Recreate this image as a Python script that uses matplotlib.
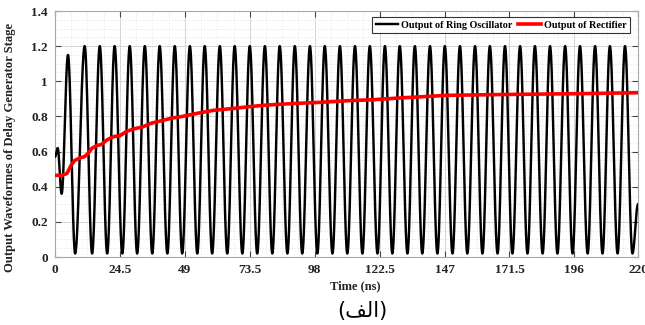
import numpy as np
import matplotlib
matplotlib.use("Agg")
import matplotlib.pyplot as plt
from matplotlib.ticker import AutoMinorLocator

# ---- data ----
# ring oscillator: start-up extrema then steady peaks / troughs (ns, V)
osc_start_t = [0.0, 1.0, 2.5, 4.9, 7.6]
osc_start_v = [0.57, 0.62, 0.36, 1.15, 0.02]
osc_peak_t = [11.2, 16.9, 22.5, 28.2, 33.9, 39.5, 45.2, 50.9, 56.5, 62.2,
              67.8, 73.5, 79.2, 84.8, 90.5, 96.2, 101.8, 107.5, 113.2, 118.8,
              124.5, 130.1, 135.8, 141.5, 147.1, 152.8, 158.5, 164.1, 169.8,
              175.5, 181.1, 186.8, 192.5, 198.1, 203.8, 209.4, 215.1]
osc_trough_t = [14.0, 19.7, 25.4, 31.0, 36.7, 42.4, 48.0, 53.7, 59.3, 65.0,
                70.7, 76.3, 82.0, 87.7, 93.3, 99.0, 104.7, 110.3, 116.0, 121.7,
                127.3, 133.0, 138.6, 144.3, 150.0, 155.6, 161.3, 167.0, 172.6,
                178.3, 184.0, 189.6, 195.3, 201.0, 206.6, 212.3, 217.9]
osc_peak_v = 1.2
osc_trough_v = 0.02
osc_end_t = [220.0]
osc_end_v = [0.3]

# rectifier output (ns, V)
rect_t = [0, 2.5, 4.5, 6, 7.5, 9.5, 11, 12.5, 14, 16, 17.5, 19.5, 22, 24.5,
          27, 30, 33, 36, 40, 44, 48, 54.5, 60, 67, 73, 80, 92, 100, 111,
          120, 130, 148, 170, 200, 220]
rect_v = [0.465, 0.465, 0.475, 0.52, 0.55, 0.565, 0.57, 0.59, 0.62, 0.635,
          0.64, 0.665, 0.685, 0.69, 0.715, 0.73, 0.74, 0.76, 0.775, 0.79,
          0.80, 0.82, 0.835, 0.845, 0.855, 0.865, 0.875, 0.88, 0.89, 0.895,
          0.905, 0.92, 0.925, 0.93, 0.935]

x_ticks = [0, 24.5, 49, 73.5, 98, 122.5, 147, 171.5, 196, 220]
x_tick_labels = ["0", "24.5", "49", "73.5", "98", "122.5", "147", "171.5", "196", "220"]
y_ticks = [0, 0.2, 0.4, 0.6, 0.8, 1.0, 1.2, 1.4]
y_tick_labels = ["0", "0.2", "0.4", "0.6", "0.8", "1", "1.2", "1.4"]

# ---- build oscillator trace through extrema (smooth half-cosine transitions) ----
ext_t = list(osc_start_t)
ext_v = list(osc_start_v)
for p, tr in zip(osc_peak_t, osc_trough_t):
    ext_t += [p, tr]
    ext_v += [osc_peak_v, osc_trough_v]
ext_t += osc_end_t
ext_v += osc_end_v
ts, vs = [], []
for i in range(len(ext_t) - 1):
    s = np.linspace(0, 1, 40, endpoint=False)
    ts.append(ext_t[i] + (ext_t[i + 1] - ext_t[i]) * s)
    vs.append(ext_v[i] + (ext_v[i + 1] - ext_v[i]) * (1 - np.cos(np.pi * s)) / 2)
ts.append([ext_t[-1]])
vs.append([ext_v[-1]])
osc_t = np.concatenate(ts)
osc_v = np.concatenate(vs)

# ---- figure ----
plt.rcParams['font.family'] = ['Liberation Serif', 'DejaVu Serif']
fig = plt.figure(figsize=(6.45, 3.25), dpi=100)
L, R, T, B = 55, 638, 11, 257
ax = fig.add_axes([L / 645, 1 - B / 325, (R - L) / 645, (B - T) / 325])

ax.plot(osc_t, osc_v, color='black', lw=1.75, label='Output of Ring Oscillator', zorder=3)
ax.plot(rect_t, rect_v, color='#ff0000', lw=2.6, label='Output of Rectifier', zorder=4)

ax.set_xlim(0, 220)
ax.set_ylim(0, 1.4)
ax.set_xticks(x_ticks)
ax.set_xticklabels(x_tick_labels)
ax.set_yticks(y_ticks)
ax.set_yticklabels(y_tick_labels)
ax.xaxis.set_minor_locator(AutoMinorLocator(4))
ax.yaxis.set_minor_locator(AutoMinorLocator(4))

ax.grid(True, which='major', color='#d4d4d4', lw=0.7, ls='-')
ax.grid(True, which='minor', color='#e4e4e4', lw=0.6, ls=(0, (1.5, 2)))
ax.set_axisbelow(True)

for sp in ax.spines.values():
    sp.set_color('#a8a8a8')
    sp.set_linewidth(0.8)

ax.tick_params(which='major', direction='in', length=4, width=0.8, color='#444444',
               top=True, right=True, labelsize=9.5, pad=5)
ax.tick_params(which='minor', length=0)
for lab in ax.get_xticklabels() + ax.get_yticklabels():
    lab.set_fontweight('bold')
    lab.set_color('#222222')

ax.set_xlabel('Time (ns)', fontsize=9, fontweight='bold', color='#222222')
ax.xaxis.set_label_coords((355 - L) / (R - L), -(280 - B) / (B - T))
ax.set_ylabel('Output Waveformes of Delay Generator Stage', fontsize=9.1,
              fontweight='bold', color='#222222')
ax.yaxis.set_label_coords(-(L - 16) / (R - L), (B - 147) / (B - T))

leg = ax.legend(loc='upper right', ncol=2, frameon=True, fancybox=False,
                edgecolor='black', handlelength=2.2, handletextpad=0.3,
                columnspacing=0.6, borderpad=0.35, borderaxespad=0.0,
                bbox_to_anchor=((630 - L) / (R - L), (B - 17) / (B - T)),
                prop={'weight': 'bold', 'size': 7.3})
leg.get_frame().set_linewidth(0.8)

fig.text(362 / 645, 1 - 311 / 325, '(\uFED2\uFEDF\uFE8D)', fontsize=15,
         family=['DejaVu Sans'], ha='center', va='center', color='black')

fig.savefig('out.png', dpi=100)
